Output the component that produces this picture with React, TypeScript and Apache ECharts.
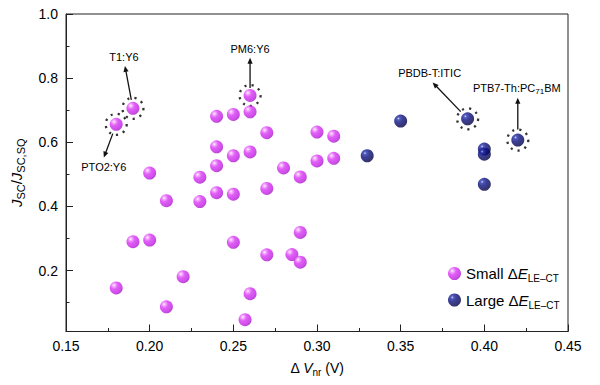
import React, { useEffect, useRef } from 'react';
import * as echarts from 'echarts';

// ---- data ----
const smallX = [0.18, 0.19, 0.26, 0.24, 0.25, 0.26, 0.27, 0.30, 0.31, 0.24, 0.25, 0.26, 0.24, 0.28, 0.29, 0.30, 0.31, 0.20, 0.23, 0.24, 0.25, 0.27, 0.21, 0.23, 0.19, 0.20, 0.25, 0.29, 0.27, 0.285, 0.29, 0.22, 0.18, 0.26, 0.21, 0.257];
const smallY = [0.656, 0.706, 0.746, 0.681, 0.687, 0.695, 0.630, 0.632, 0.619, 0.586, 0.558, 0.570, 0.527, 0.520, 0.492, 0.542, 0.550, 0.504, 0.491, 0.443, 0.438, 0.456, 0.418, 0.415, 0.290, 0.295, 0.288, 0.319, 0.249, 0.250, 0.226, 0.181, 0.146, 0.128, 0.087, 0.047];
const largeX = [0.33, 0.35, 0.39, 0.40, 0.40, 0.40, 0.42];
const largeY = [0.558, 0.666, 0.673, 0.579, 0.563, 0.469, 0.607];

const xMin = 0.15;
const xMax = 0.45;
const xInterval = 0.05;
const yMin = 0.01;
const yMax = 1.0;
const yTickLabels = [0.2, 0.4, 0.6, 0.8, 1.0];
const yMinorTicks = [0.1, 0.3, 0.5, 0.7, 0.9];

// highlighted systems: label, data point, arrow tail/head & text offsets (px)
const annoLabels = ['{n|PTO2:Y6}', '{n|T1:Y6}', '{n|PM6:Y6}', '{n|PBDB-T:ITIC}', '{n|PTB7-Th:PC}{s|71}{n|BM}'];
const annoX = [0.18, 0.19, 0.26, 0.39, 0.42];
const annoY = [0.656, 0.706, 0.746, 0.673, 0.607];
const annoTail = [[-3.4, 9.3], [-1.6, -8.4], [0, -7.5], [-6.9, -7.2], [0, -10.5]];
const annoHead = [[-12.4, 33.3], [-8, -42.4], [0, -37.6], [-35, -36.4], [0, -42.3]];
const annoText = [[-12.4, 42.7], [-9, -51], [0, -46], [-38, -45.4], [-1, -51.7]];

const FONT = '"Liberation Sans", Arial, Helvetica, sans-serif';

const magentaBall = new echarts.graphic.RadialGradient(0.33, 0.3, 0.75, [
  { offset: 0, color: '#ffffff' },
  { offset: 0.14, color: '#f29aff' },
  { offset: 0.4, color: '#d936f4' },
  { offset: 0.8, color: '#c222e4' },
  { offset: 1, color: '#a215c0' },
]);
const navyBall = new echarts.graphic.RadialGradient(0.33, 0.3, 0.75, [
  { offset: 0, color: '#c8d0ff' },
  { offset: 0.14, color: '#2c36b0' },
  { offset: 0.4, color: '#0c1280' },
  { offset: 0.8, color: '#040458' },
  { offset: 1, color: '#010134' },
]);

const subRich = {
  n: { fontSize: 14, fontFamily: FONT, color: '#000', lineHeight: 19 },
  i: { fontSize: 14, fontFamily: FONT, color: '#000', fontStyle: 'italic', lineHeight: 19 },
  s: { fontSize: 10, fontFamily: FONT, color: '#000', verticalAlign: 'bottom' },
};

export default function App() {
  const ref = useRef<HTMLDivElement>(null);
  useEffect(() => {
    if (!ref.current) return;
    const chart = echarts.init(ref.current, undefined, { renderer: 'svg' });
    const option: any = {
      animation: false,
      backgroundColor: '#fff',
      grid: { left: 66, right: 32, top: 14, bottom: 53.5, show: true, borderColor: '#222', borderWidth: 1, backgroundColor: 'transparent' },
      xAxis: {
        type: 'value', min: xMin, max: xMax, interval: xInterval,
        axisLine: { show: true, lineStyle: { color: '#222', width: 1 } },
        axisTick: { show: true, inside: true, length: 7, lineStyle: { color: '#222' } },
        minorTick: { show: true, splitNumber: 2, length: 3.5, lineStyle: { color: '#222' } },
        splitLine: { show: false },
        axisLabel: { fontSize: 14, fontFamily: FONT, color: '#000', margin: 7, formatter: (v: number) => v.toFixed(2) },
        name: '{n|Δ }{i|V}{s|nr}{n| (V)}',
        nameLocation: 'middle', nameGap: 27,
        nameTextStyle: { rich: subRich },
      },
      yAxis: [
        {
          type: 'value', min: yMin, max: yMax,
          axisLine: { show: true, lineStyle: { color: '#222', width: 1 } },
          axisTick: { show: true, inside: true, length: 7, customValues: yTickLabels, lineStyle: { color: '#222' } },
          splitLine: { show: false },
          axisLabel: { fontSize: 14, fontFamily: FONT, color: '#000', margin: 8, customValues: yTickLabels, formatter: (v: number) => v.toFixed(1) },
          name: '{j|J}{s|SC}{n|/}{j|J}{s|SC,SQ}',
          nameLocation: 'middle', nameRotate: 90, nameGap: 40,
          nameTextStyle: {
            rich: {
              n: { fontSize: 15, fontFamily: FONT, color: '#000', lineHeight: 20 },
              j: { fontSize: 15, fontFamily: FONT, color: '#000', fontStyle: 'italic', lineHeight: 20 },
              s: { fontSize: 11, fontFamily: FONT, color: '#000', verticalAlign: 'bottom' },
            },
          },
        },
        {
          type: 'value', min: yMin, max: yMax, position: 'left',
          axisLine: { show: false },
          axisTick: { show: true, inside: true, length: 3.5, customValues: yMinorTicks, lineStyle: { color: '#222' } },
          splitLine: { show: false },
          axisLabel: { show: false },
        },
      ],
      legend: {
        orient: 'vertical', left: 443, top: 261, itemGap: 9,
        itemWidth: 13, itemHeight: 13, icon: 'circle',
        data: ['Small', 'Large'],
        formatter: (name: string) => `{n|${name} Δ}{i|E}{s|LE–CT}`,
        textStyle: {
          rich: {
            n: { fontSize: 15, fontFamily: FONT, color: '#000', lineHeight: 20 },
            i: { fontSize: 15, fontFamily: FONT, color: '#000', fontStyle: 'italic', lineHeight: 20 },
            s: { fontSize: 10, fontFamily: FONT, color: '#000', verticalAlign: 'bottom' },
          },
        },
      },
      series: [
        {
          name: 'Ring', type: 'scatter', symbol: 'circle', symbolSize: 21, z: 1,
          data: annoX.map((x, i) => [x, annoY[i]]),
          itemStyle: { color: 'rgba(0,0,0,0)', borderColor: '#000', borderWidth: 2.3, borderType: [2.2, 5] },
          emphasis: { disabled: true }, silent: true,
        },
        {
          name: 'Small', type: 'scatter', symbol: 'circle', symbolSize: 13, z: 3,
          data: smallX.map((x, i) => [x, smallY[i]]),
          itemStyle: { color: magentaBall },
        },
        {
          name: 'Large', type: 'scatter', symbol: 'circle', symbolSize: 13, z: 3,
          data: largeX.map((x, i) => [x, largeY[i]]),
          itemStyle: { color: navyBall },
        },
      ],
    };
    chart.setOption(option);

    const graphics: any[] = [];
    annoX.forEach((x, i) => {
      const p = chart.convertToPixel({ xAxisIndex: 0, yAxisIndex: 0 }, [x, annoY[i]]) as number[];
      const x1 = p[0] + annoTail[i][0];
      const y1 = p[1] + annoTail[i][1];
      const x2 = p[0] + annoHead[i][0];
      const y2 = p[1] + annoHead[i][1];
      const dx = x2 - x1, dy = y2 - y1;
      const len = Math.sqrt(dx * dx + dy * dy);
      const ux = dx / len, uy = dy / len;
      const hl = 6, hw = 2.6;
      const bx = x2 - ux * hl, by = y2 - uy * hl;
      graphics.push({
        type: 'line', silent: true, z: 10,
        shape: { x1, y1, x2: bx + ux, y2: by + uy },
        style: { stroke: '#111', lineWidth: 1.3 },
      });
      graphics.push({
        type: 'polygon', silent: true, z: 10,
        shape: { points: [[x2, y2], [bx - uy * hw, by + ux * hw], [bx + uy * hw, by - ux * hw]] },
        style: { fill: '#111' },
      });
      graphics.push({
        type: 'text', silent: true, z: 10,
        x: p[0] + annoText[i][0], y: p[1] + annoText[i][1],
        style: {
          text: annoLabels[i], align: 'center', verticalAlign: 'middle',
          rich: {
            n: { fontSize: 11, fontFamily: FONT, fill: '#000', lineHeight: 14 },
            s: { fontSize: 8, fontFamily: FONT, fill: '#000', verticalAlign: 'bottom' },
          },
        },
      });
    });
    chart.setOption({ graphic: graphics });

    return () => chart.dispose();
  }, []);
  return <div ref={ref} style={{ position: 'fixed', left: 0, top: 0, width: 600, height: 385 }} />;
}
